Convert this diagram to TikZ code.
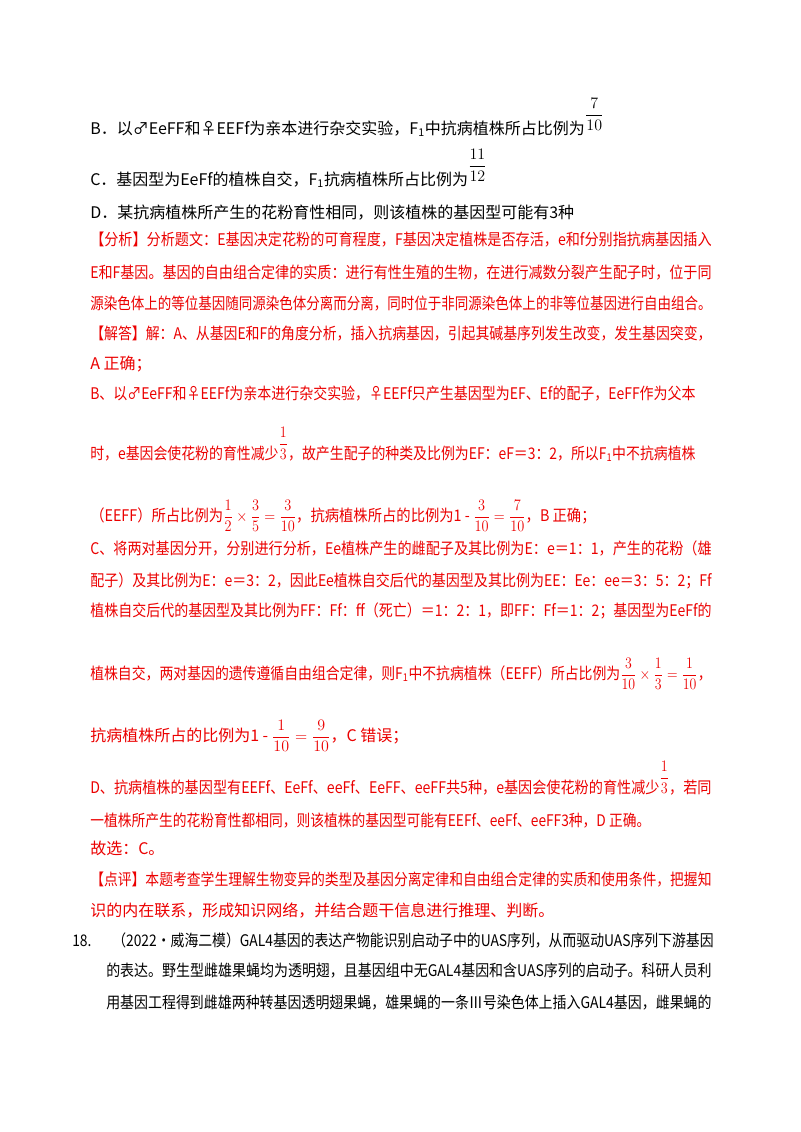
\documentclass[tikz,border=0pt]{standalone}
\usepackage{fontspec}
\usepackage{amsmath}
\usepackage{graphicx}
\setmainfont{Noto Sans CJK SC}
\definecolor{ered}{RGB}{235,0,0}
\newcommand{\fitw}[2]{\resizebox{#1}{\height}{#2}}
\begin{document}
\begin{tikzpicture}[x=0.75pt,y=-0.75pt,
  ln/.style={anchor=base west,inner sep=0pt,font=\fontsize{12}{14}\selectfont},
  rl/.style={ln,text=ered}]
\useasboundingbox (0,0) rectangle (800,1132);
\node[ln] (b) at (90,134) {B．以♂EeFF和♀EEFf为亲本进行杂交实验，F\textsubscript{1}中抗病植株所占比例为\raisebox{0.9em}{$\dfrac{7}{10}$}};
\node[ln] (c) at (90,185) {C．基因型为EeFf的植株自交，F\textsubscript{1}抗病植株所占比例为\raisebox{0.9em}{$\dfrac{11}{12}$}};
\node[ln] (d) at (90,218) {D．某抗病植株所产生的花粉育性相同，则该植株的基因型可能有3种};
\node[rl] (l1) at (90,245) {\fitw{466pt}{【分析】分析题文：E基因决定花粉的可育程度，F基因决定植株是否存活，e和f分别指抗病基因插入}};
\node[rl] (l2) at (90,278) {\fitw{466pt}{E和F基因。基因的自由组合定律的实质：进行有性生殖的生物，在进行减数分裂产生配子时，位于同}};
\node[rl] (l3) at (90,309) {\fitw{466pt}{源染色体上的等位基因随同源染色体分离而分离，同时位于非同源染色体上的非等位基因进行自由组合。}};
\node[rl] (l4) at (90,339) {\fitw{466pt}{【解答】解：A、从基因E和F的角度分析，插入抗病基因，引起其碱基序列发生改变，发生基因突变，}};
\node[rl] (l5) at (90,369) {A 正确；};
\node[rl] (l6) at (90,399) {\fitw{454pt}{B、以♂EeFF和♀EEFf为亲本进行杂交实验，♀EEFf只产生基因型为EF、Ef的配子，EeFF作为父本}};
\node[rl] (l7) at (90,459) {\fitw{454pt}{时，e基因会使花粉的育性减少\raisebox{0.65em}{$\dfrac{1}{3}$}，故产生配子的种类及比例为EF：eF＝3：2，所以F\textsubscript{1}中不抗病植株}};
\node[rl] (l8) at (90,521) {\fitw{379pt}{（EEFF）所占比例为$\dfrac{1}{2}\times\dfrac{3}{5}=\dfrac{3}{10}$，抗病植株所占的比例为1 - $\dfrac{3}{10}=\dfrac{7}{10}$，B 正确；}};
\node[rl] (l9) at (90,554) {\fitw{466pt}{C、将两对基因分开，分别进行分析，Ee植株产生的雌配子及其比例为E：e＝1：1，产生的花粉（雄}};
\node[rl] (l10) at (90,586) {\fitw{466pt}{配子）及其比例为E：e＝3：2，因此Ee植株自交后代的基因型及其比例为EE：Ee：ee＝3：5：2；Ff}};
\node[rl] (l11) at (90,616) {\fitw{466pt}{植株自交后代的基因型及其比例为FF：Ff：ff（死亡）＝1：2：1，即FF：Ff＝1：2；基因型为EeFf的}};
\node[rl] (l12) at (90,679) {\fitw{466pt}{植株自交，两对基因的遗传遵循自由组合定律，则F\textsubscript{1}中不抗病植株（EEFF）所占比例为$\dfrac{3}{10}\times\dfrac{1}{3}=\dfrac{1}{10}$，}};
\node[rl] (l13) at (90,741) {抗病植株所占的比例为1 - $\dfrac{1}{10}=\dfrac{9}{10}$，C 错误；};
\node[rl] (l14) at (90,793) {\fitw{466pt}{D、抗病植株的基因型有EEFf、EeFf、eeFf、EeFF、eeFF共5种，e基因会使花粉的育性减少\raisebox{0.65em}{$\dfrac{1}{3}$}，若同}};
\node[rl] (l15) at (90,826) {\fitw{420pt}{一植株所产生的花粉育性都相同，则该植株的基因型可能有EEFf、eeFf、eeFF3种，D 正确。}};
\node[rl] (l16) at (90,854) {故选：C。};
\node[rl] (l17) at (90,885) {\fitw{466pt}{【点评】本题考查学生理解生物变异的类型及基因分离定律和自由组合定律的实质和使用条件，把握知}};
\node[rl] (l18) at (90,916) {识的内在联系，形成知识网络，并结合题干信息进行推理、判断。};
\node[ln] (q1) at (72,946) {\fitw{481pt}{18.\hspace{1.5em}（2022•威海二模）GAL4基因的表达产物能识别启动子中的UAS序列，从而驱动UAS序列下游基因}};
\node[ln] (q2) at (106,976) {\fitw{454pt}{的表达。野生型雌雄果蝇均为透明翅，且基因组中无GAL4基因和含UAS序列的启动子。科研人员利}};
\node[ln] (q3) at (106,1008) {\fitw{454pt}{用基因工程得到雌雄两种转基因透明翅果蝇，雄果蝇的一条Ⅲ号染色体上插入GAL4基因，雌果蝇的}};
\end{tikzpicture}
\end{document}
